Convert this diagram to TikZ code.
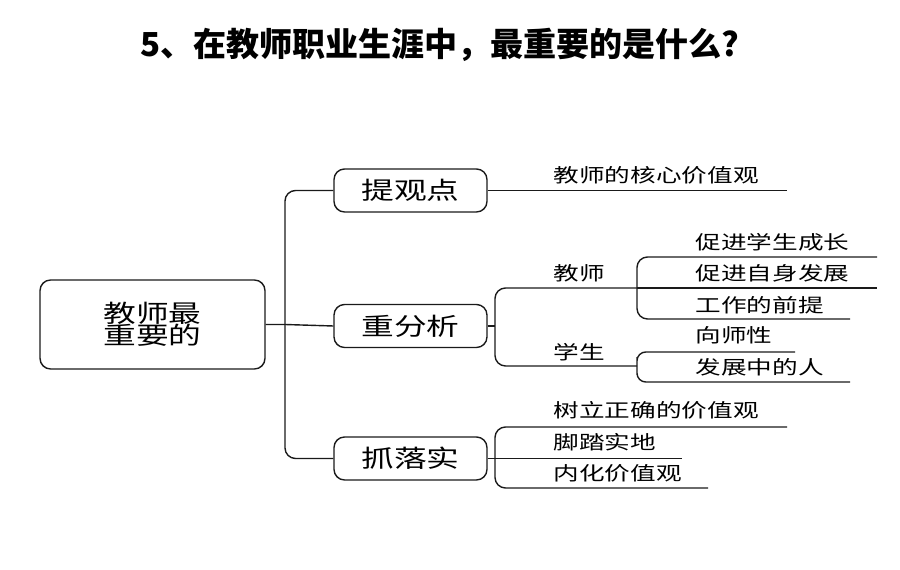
\documentclass[tikz,border=0pt]{standalone}
\usepackage{fontspec}
\usetikzlibrary{positioning,calc}
\newfontfamily\cjk{Noto Sans CJK SC}
\newfontfamily\cjkwide[FakeStretch=1.35]{Noto Sans CJK SC}
\definecolor{Ink}{HTML}{1A1A1A}

\begin{document}
\begin{tikzpicture}[x=0.02cm,y=-0.02cm,line width=0.8pt,draw=Ink,
    topic/.style={draw=Ink,rounded corners=6pt,inner sep=0pt,align=center,font=\cjkwide\fontsize{13.8}{12.8}\selectfont},
    leaf/.style={anchor=west,inner sep=0pt,font=\cjkwide\fontsize{10.8}{13}\selectfont},
    elbow/.style={rounded corners=6pt}]
    \useasboundingbox (0,0) rectangle (900,570);
    \node[font=\cjk\bfseries\fontsize{18.8}{23}\selectfont] (title) at (440,45) {5、在教师职业生涯中，最重要的是什么?};
    % root and the three steps
    \node[topic,minimum width=4.5cm,minimum height=1.78cm] (root) at (152.5,324.5) {教师最\\重要的};
    \node[topic,minimum width=3.06cm,minimum height=0.86cm] (tgd) at (410.5,190.5) {提观点};
    \node[topic,minimum width=3.06cm,minimum height=0.86cm] (zfx) at (410.5,326) {重分析};
    \node[topic,minimum width=3.06cm,minimum height=0.86cm] (zls) at (410.5,458.5) {抓落实};
    \coordinate (trunk) at (285,0);
    \coordinate (fork) at (495,0);
    \draw (root.east) -- (root.east -| trunk) -- (zfx.west);
    \draw[elbow] (tgd.west) -- (tgd.west -| trunk) |- (zls.west);
    % 提观点
    \coordinate (e1) at (787,190.5);
    \draw (tgd.east) -- (e1);
    \node[leaf] (hx) at (553,175) {教师的核心价值观};
    % 重分析
    \coordinate (js) at (637,288);
    \coordinate (xs) at (637,366);
    \draw (zfx.east) -- (zfx.east -| fork);
    \draw[elbow] (js) -| (fork |- xs) -- (xs);
    \node[leaf] (jsl) at (553,273) {教师};
    \node[leaf] (xsl) at (553,352) {学生};
    \coordinate (ea1) at (877,257);
    \coordinate (ea2) at (877,288);
    \coordinate (ea3) at (850,319);
    \draw[elbow] (ea1) -| (js) |- (ea3);
    \draw (js) -- (ea2);
    \node[leaf] (a1) at (695,242) {促进学生成长};
    \node[leaf] (a2) at (695,273) {促进自身发展};
    \node[leaf] (a3) at (695,305) {工作的前提};
    \coordinate (eb1) at (795,352);
    \coordinate (eb2) at (850,382);
    \draw[rounded corners=5pt] (eb1) -| (xs) |- (eb2);
    \node[leaf] (b1) at (695,335) {向师性};
    \node[leaf] (b2) at (695,367) {发展中的人};
    % 抓落实
    \coordinate (ec1) at (787,427);
    \coordinate (ec2) at (682,458.5);
    \coordinate (ec3) at (708,488);
    \draw (zls.east) -- (ec2);
    \draw[elbow] (ec1) -| (fork |- zls.east) |- (ec3);
    \node[leaf] (c1) at (553,410) {树立正确的价值观};
    \node[leaf] (c2) at (553,442) {脚踏实地};
    \node[leaf] (c3) at (553,473) {内化价值观};
  \end{tikzpicture}
\end{document}
